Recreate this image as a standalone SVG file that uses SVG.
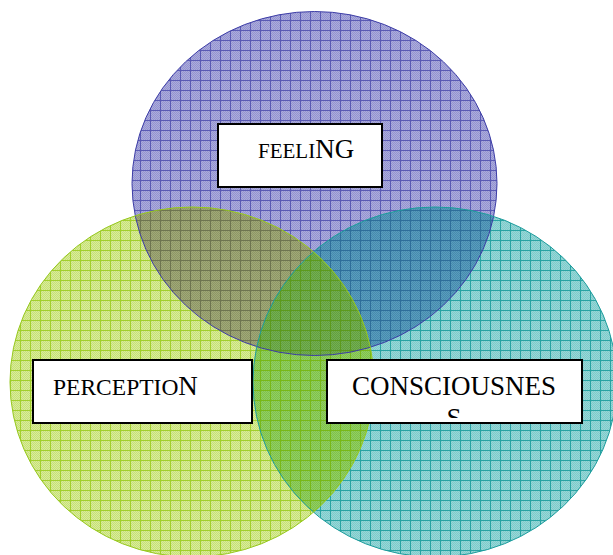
<svg xmlns="http://www.w3.org/2000/svg" width="613" height="555" viewBox="0 0 613 555">
  <defs>
    <!-- fine two-tone weave, one per tint -->
    <pattern id="wPurple" width="2" height="2" patternUnits="userSpaceOnUse">
      <rect width="2" height="2" fill="#acacdc"/>
      <path d="M0 0h1v1h-1zM1 1h1v1h-1z" fill="#9494d0"/>
    </pattern>
    <pattern id="wGreen" width="2" height="2" patternUnits="userSpaceOnUse">
      <rect width="2" height="2" fill="#d9ec9a"/>
      <path d="M0 0h1v1h-1zM1 1h1v1h-1z" fill="#c6e078"/>
    </pattern>
    <pattern id="wTeal" width="2" height="2" patternUnits="userSpaceOnUse">
      <rect width="2" height="2" fill="#98d7d7"/>
      <path d="M0 0h1v1h-1zM1 1h1v1h-1z" fill="#7ecbcb"/>
    </pattern>
    <pattern id="wOlive" width="2" height="2" patternUnits="userSpaceOnUse">
      <rect width="2" height="2" fill="#a0a778"/>
      <path d="M0 0h1v1h-1zM1 1h1v1h-1z" fill="#8e9866"/>
    </pattern>
    <pattern id="wSteel" width="2" height="2" patternUnits="userSpaceOnUse">
      <rect width="2" height="2" fill="#5a9cbc"/>
      <path d="M0 0h1v1h-1zM1 1h1v1h-1z" fill="#468caf"/>
    </pattern>
    <pattern id="wLime" width="2" height="2" patternUnits="userSpaceOnUse">
      <rect width="2" height="2" fill="#92cd62"/>
      <path d="M0 0h1v1h-1zM1 1h1v1h-1z" fill="#7ec24c"/>
    </pattern>
    <pattern id="wMoss" width="2" height="2" patternUnits="userSpaceOnUse">
      <rect width="2" height="2" fill="#74ae52"/>
      <path d="M0 0h1v1h-1zM1 1h1v1h-1z" fill="#62a040"/>
    </pattern>

    <!-- 10px grid fills -->
    <pattern id="gPurple" width="10" height="10" patternUnits="userSpaceOnUse">
      <rect width="10" height="10" fill="url(#wPurple)"/>
      <path d="M0 0.5H10M0.5 0V10" stroke="#5a5ab4"/>
    </pattern>
    <pattern id="gGreen" width="10" height="10" patternUnits="userSpaceOnUse">
      <rect width="10" height="10" fill="url(#wGreen)"/>
      <path d="M0 0.5H10M0.5 0V10" stroke="#a2cf2c"/>
    </pattern>
    <pattern id="gTeal" width="10" height="10" patternUnits="userSpaceOnUse">
      <rect width="10" height="10" fill="url(#wTeal)"/>
      <path d="M0 0.5H10M0.5 0V10" stroke="#28a3a3"/>
    </pattern>
    <pattern id="gOlive" width="10" height="10" patternUnits="userSpaceOnUse">
      <rect width="10" height="10" fill="url(#wOlive)"/>
      <path d="M0 0.5H10M0.5 0V10" stroke="#6e7450"/>
    </pattern>
    <pattern id="gSteel" width="10" height="10" patternUnits="userSpaceOnUse">
      <rect width="10" height="10" fill="url(#wSteel)"/>
      <path d="M0 0.5H10M0.5 0V10" stroke="#2e6e9a"/>
    </pattern>
    <pattern id="gLime" width="10" height="10" patternUnits="userSpaceOnUse">
      <rect width="10" height="10" fill="url(#wLime)"/>
      <path d="M0 0.5H10M0.5 0V10" stroke="#78b818"/>
    </pattern>
    <pattern id="gMoss" width="10" height="10" patternUnits="userSpaceOnUse">
      <rect width="10" height="10" fill="url(#wMoss)"/>
      <path d="M0 0.5H10M0.5 0V10" stroke="#5c9a1c"/>
    </pattern>

    <!-- circle shapes, reused for fills, clips and outlines -->
    <ellipse id="shapeP" cx="314.5" cy="183.5" rx="182.5" ry="172"/>
    <ellipse id="shapeT" cx="435" cy="382" rx="182" ry="175"/>
    <ellipse id="shapeG" cx="192" cy="382" rx="182" ry="175"/>

    <clipPath id="clipP"><use href="#shapeP"/></clipPath>
    <clipPath id="clipT"><use href="#shapeT"/></clipPath>
    <clipPath id="clipConsc"><rect x="328" y="361" width="253" height="57"/></clipPath>
  </defs>

  <style>
    .box { fill: #ffffff; stroke: #000000; stroke-width: 2; }
    .lbl { font-family: "Liberation Serif", "Times New Roman", serif; fill: #000000; }
    .edge { fill: none; stroke-width: 1; }
  </style>

  <!-- circles -->
  <g id="feeling">
    <use href="#shapeP" fill="url(#gPurple)"/>
  </g>
  <g id="consciousness">
    <use href="#shapeT" fill="url(#gTeal)"/>
  </g>
  <g id="perception">
    <use href="#shapeG" fill="url(#gGreen)"/>
  </g>

  <!-- overlaps -->
  <g id="overlaps">
    <g clip-path="url(#clipP)"><use href="#shapeG" fill="url(#gOlive)"/></g>
    <g clip-path="url(#clipP)"><use href="#shapeT" fill="url(#gSteel)"/></g>
    <g clip-path="url(#clipT)"><use href="#shapeG" fill="url(#gLime)"/></g>
    <g clip-path="url(#clipP)"><g clip-path="url(#clipT)"><use href="#shapeG" fill="url(#gMoss)"/></g></g>
  </g>

  <!-- outlines -->
  <g id="outlines">
    <use href="#shapeP" class="edge" stroke="#3c3ca6"/>
    <use href="#shapeT" class="edge" stroke="#1c9c9c"/>
    <use href="#shapeG" class="edge" stroke="#96c81e"/>
  </g>

  <!-- connectors: none drawn -->
  <g id="connectors"/>

  <!-- label boxes -->
  <g id="feeling-label">
    <rect class="box" x="218" y="124" width="164" height="63"/>
    <text class="lbl" x="258" y="158"><tspan font-size="21">FEELI</tspan><tspan font-size="27">NG</tspan></text>
  </g>
  <g id="perception-label">
    <rect class="box" x="33" y="360" width="219" height="63"/>
    <text class="lbl" x="53" y="395"><tspan font-size="23.5">PERCEPTIO</tspan><tspan font-size="27">N</tspan></text>
  </g>
  <g id="consciousness-label">
    <rect class="box" x="327" y="360" width="255" height="63"/>
    <text class="lbl" x="454" y="395" font-size="27" text-anchor="middle">CONSCIOUSNES</text>
    <text class="lbl" x="454" y="427" font-size="27" text-anchor="middle" clip-path="url(#clipConsc)">S</text>
  </g>
</svg>
